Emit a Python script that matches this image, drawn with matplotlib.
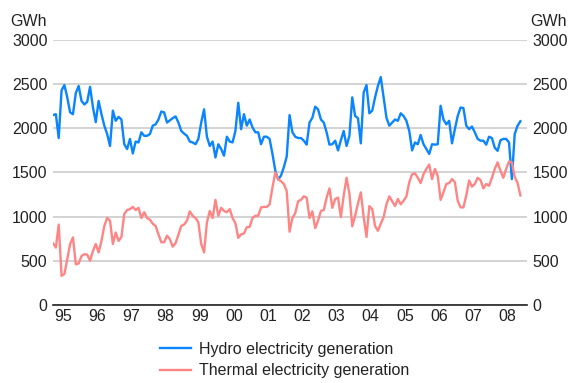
import numpy as np
import matplotlib
matplotlib.use("Agg")
import matplotlib.pyplot as plt

plt.rcParams['font.family'] = ['Liberation Sans Narrow', 'Arial Narrow', 'Liberation Sans', 'DejaVu Sans']

# Monthly generation, GWh, from Jan 1995
hydro = [
    2150, 2160, 1890, 2430, 2490, 2350, 2180, 2160, 2400, 2480, 2310, 2270,
    2300, 2470, 2240, 2070, 2310, 2160, 2030, 1935, 1800, 2200, 2085, 2130,
    2100, 1820, 1765, 1880, 1715, 1850, 1840, 1955, 1915, 1915, 1935, 2030,
    2045, 2100, 2190, 2180, 2065, 2090, 2115, 2135, 2065, 1970, 1940, 1915,
    1850, 1840, 1820, 1880, 2065, 2215, 1905, 1800, 1850, 1670, 1820, 1765,
    1690, 1905, 1850, 1840, 1970, 2290, 1990, 2160, 2030, 2100, 2010, 1955,
    1955, 1820, 1905, 1905, 1880, 1710, 1520, 1420, 1465, 1560, 1680, 2150,
    1955, 1905, 1890, 1890, 1860, 1815, 2065, 2120, 2245, 2215, 2100, 2065,
    1955, 1815, 1820, 1860, 1750, 1865, 1970, 1800, 1915, 2350, 2140, 2115,
    1830, 2405, 2490, 2170, 2200, 2350, 2480, 2580, 2350, 2120, 2030, 2065,
    2100, 2085, 2170, 2140, 2085, 1970, 1750, 1840, 1820, 1925, 1820, 1765,
    1710, 1820, 1815, 1820, 2255, 2100, 2045, 2085, 1830, 1990, 2140, 2235,
    2230, 2030, 1990, 2020, 1955, 1880, 1860, 1860, 1815, 1905, 1890, 1780,
    1745, 1865, 1880, 1880, 1840, 1425, 1935, 2030, 2080,
]
thermal = [
    700, 650, 910, 330, 350, 520, 690, 765, 460, 470, 555, 575,
    570, 500, 610, 690, 595, 725, 895, 985, 955, 690, 820, 725,
    770, 1030, 1075, 1085, 1110, 1075, 1100, 985, 1050, 985, 965, 920,
    895, 800, 710, 710, 785, 745, 660, 700, 795, 895, 910, 955,
    1060, 1010, 985, 935, 690, 595, 935, 1065, 985, 1190, 1010, 1100,
    1065, 1050, 1085, 985, 925, 760, 800, 810, 880, 885, 985, 1010,
    1010, 1105, 1110, 1110, 1140, 1330, 1500, 1425, 1400, 1370, 1290, 830,
    985, 1040, 1175, 1190, 1230, 1215, 985, 1060, 870, 955, 1065, 1075,
    1215, 1320, 1100, 1200, 1215, 995, 1240, 1440, 1260, 890, 1010, 1150,
    1275, 995, 770, 1120, 1085, 895, 840, 920, 995, 1140, 1230, 1175,
    1120, 1200, 1140, 1180, 1230, 1390, 1480, 1490, 1440, 1380, 1480, 1540,
    1590, 1425, 1540, 1460, 1190, 1275, 1370, 1380, 1425, 1390, 1180, 1105,
    1105, 1240, 1410, 1340, 1370, 1440, 1415, 1320, 1370, 1350, 1440, 1540,
    1615, 1520, 1440, 1540, 1625, 1615, 1450, 1380, 1240,
]
years = list(range(1995, 2009))
year_labels = ["95", "96", "97", "98", "99", "00", "01", "02", "03", "04", "05", "06", "07", "08"]

t = 1995 + np.arange(len(hydro)) / 12.0

fig = plt.figure(figsize=(5.7, 3.83), dpi=100)
ax = fig.add_axes([0.093, 0.2037, 0.8316, 0.6919])

fs = 11.5
blue = "#0a84ff"
pink = "#ff8585"
ax.plot(t, hydro, color=blue, lw=1.7, label="Hydro electricity generation", zorder=3)
ax.plot(t, thermal, color=pink, lw=1.7, label="Thermal electricity generation", zorder=3)

ax.set_xlim(1995, 2008.86)
ax.set_ylim(0, 3000)
ax.set_yticks(range(0, 3001, 500))
ax.grid(axis="y", color="#c8c8c8", lw=1.1)
ax.set_axisbelow(True)

ax.set_xticks([y + 0.29 for y in years])
ax.set_xticklabels(year_labels)
ax.tick_params(axis="x", length=0, pad=3, labelsize=fs, colors="#222222")
ax.tick_params(axis="y", length=0, pad=4, labelsize=fs, colors="#222222",
               labelleft=True, labelright=True)

for s in ["top", "left", "right"]:
    ax.spines[s].set_visible(False)
ax.spines["bottom"].set_color("#222222")
ax.spines["bottom"].set_linewidth(1.2)

fig.text(0.018, 0.945, "GWh", fontsize=fs, color="#222222", va="center", ha="left")
fig.text(0.93, 0.945, "GWh", fontsize=fs, color="#222222", va="center", ha="left")

fig.legend(loc="upper left", bbox_to_anchor=(0.281, 0.107), ncol=1, frameon=False,
           fontsize=fs, handlelength=1.95, handletextpad=0.45, labelspacing=0.4,
           borderpad=0, borderaxespad=0, labelcolor="#222222")

fig.savefig("out.png", dpi=100)
